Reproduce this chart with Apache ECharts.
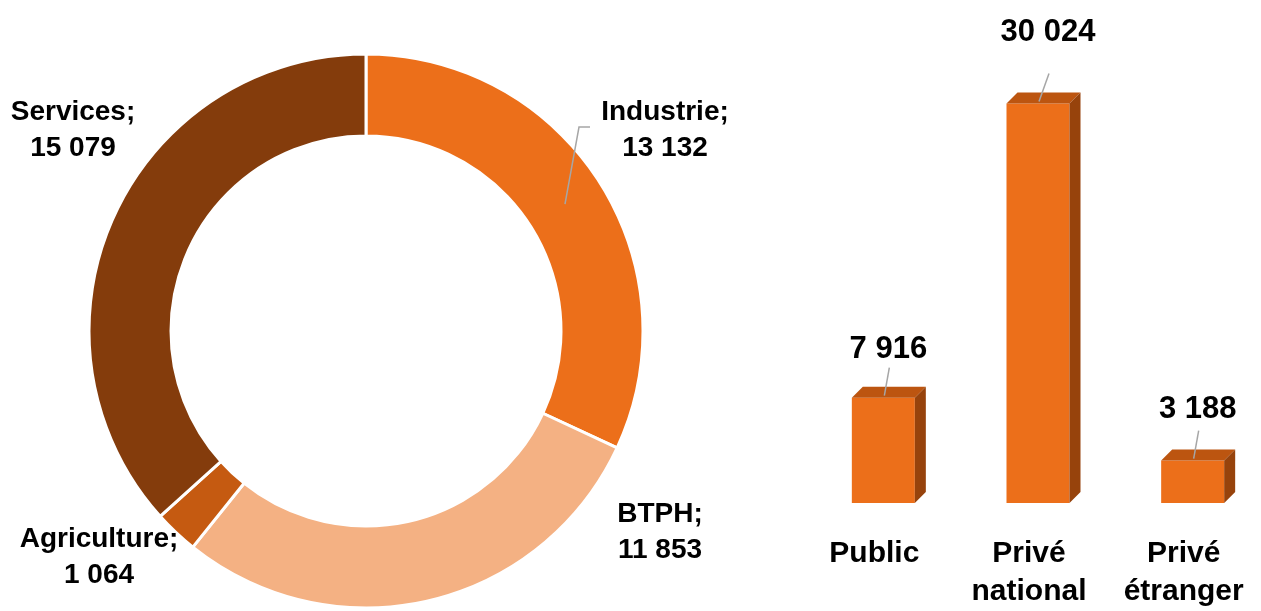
<!DOCTYPE html>
<html>
<head>
<meta charset="utf-8">
<script src="https://cdn.jsdelivr.net/npm/echarts@6/dist/echarts.min.js"></script>
<style>
    html, body { margin: 0; padding: 0; background: #fff; }
    #chart { width: 1261px; height: 611px; }
</style>
</head>
<body>
<div id="chart"></div>
<script>
/* données */
const sectors = ['Industrie', 'BTPH', 'Agriculture', 'Services'];
const sectorValues = [13132, 11853, 1064, 15079];
const owners = ['Public', 'Privé\nnational', 'Privé\nétranger'];
const ownerValues = [7916, 30024, 3188];

const sectorColors = ['#EC6F1A', '#F4B183', '#C55A11', '#843C0C'];
const font = '"Liberation Sans", Arial, sans-serif';

let fmt = function (v) {
    return String(v).replace(/\B(?=(\d{3})+(?!\d))/g, ' ');
};

/* géométrie du donut */
const pieCenter = [366, 331];
const pieRadius = [195, 277];

/* position des étiquettes du donut */
const pieLabelPos = [
    { x: 665, y: 130 },
    { x: 660, y: 532 },
    { x: 99, y: 557 },
    { x: 73, y: 130 }
];
/* hauteur des étiquettes au-dessus des barres */
const barLabelLift = [50, 73, 53];

/* trait de rappel Industrie : part du milieu du secteur */
let total = sectorValues.reduce(function (a, b) { return a + b; }, 0);
let midAngle = sectorValues[0] / total * Math.PI;
let midR = (pieRadius[0] + pieRadius[1]) / 2;
let guideStart = [pieCenter[0] + midR * Math.sin(midAngle), pieCenter[1] - midR * Math.cos(midAngle)];

let chart = echarts.init(document.getElementById('chart'));

let pieData = sectors.map(function (name, i) {
    return {
        name: name,
        value: sectorValues[i],
        itemStyle: { color: sectorColors[i] }
    };
});

let barData = owners.map(function (name, i) {
    return [i, ownerValues[i]];
});

let options = {
    animation: false,
    textStyle: { fontFamily: font },
    grid: {
        left: 797,
        width: 476,
        top: 4,
        height: 506
    },
    graphic: [
        {
            type: 'polyline',
            z: 100,
            shape: { points: [guideStart, [579, 127], [590, 127]] },
            style: { stroke: '#A6A6A6', lineWidth: 1.5, fill: null }
        }
    ],
    xAxis: {
        type: 'category',
        data: owners,
        axisLine: { show: false },
        axisTick: { show: false },
        axisLabel: {
            color: '#000',
            fontSize: 30,
            fontWeight: 'bold',
            fontFamily: font,
            lineHeight: 38,
            margin: 32,
            interval: 0
        }
    },
    yAxis: {
        type: 'value',
        min: 0,
        max: 37511,
        show: false
    },
    series: [
        {
            type: 'pie',
            center: pieCenter,
            radius: pieRadius,
            startAngle: 90,
            clockwise: true,
            data: pieData,
            itemStyle: { borderColor: '#fff', borderWidth: 3 },
            label: {
                show: true,
                color: '#000',
                fontSize: 28,
                fontWeight: 'bold',
                fontFamily: font,
                lineHeight: 36,
                align: 'center',
                overflow: 'none',
                formatter: function (p) {
                    return p.name + ';\n' + fmt(p.value);
                }
            },
            labelLine: { show: false },
            labelLayout: function (p) {
                let pos = pieLabelPos[p.dataIndex];
                return { x: pos.x, y: pos.y, align: 'center', verticalAlign: 'middle', hideOverlap: false };
            }
        },
        {
            type: 'custom',
            data: barData,
            renderItem: function (params, api) {
                let idx = api.value(0);
                let base = api.coord([idx, 0]);
                let top = api.coord([idx, api.value(1)]);
                let w = 63, d = 11;
                let x0 = base[0] + 9 - w / 2;
                let x1 = x0 + w;
                let y0 = top[1], y1 = base[1];
                let cx = (x0 + x1) / 2;
                let lift = barLabelLift[params.dataIndex];
                return {
                    type: 'group',
                    children: [
                        {
                            type: 'rect',
                            shape: { x: x0, y: y0, width: w, height: y1 - y0 },
                            style: { fill: '#EC6F1A' }
                        },
                        {
                            type: 'polygon',
                            shape: { points: [[x0, y0], [x0 + d, y0 - d], [x1 + d, y0 - d], [x1, y0]] },
                            style: { fill: '#BC5510' }
                        },
                        {
                            type: 'polygon',
                            shape: { points: [[x1, y0], [x1 + d, y0 - d], [x1 + d, y1 - d], [x1, y1]] },
                            style: { fill: '#97430C' }
                        },
                        {
                            type: 'line',
                            shape: { x1: cx + 1, y1: y0 - 2, x2: cx + 6 + (lift > 60 ? 5 : 0), y2: y0 - 30 },
                            style: { stroke: '#A6A6A6', lineWidth: 1.5 }
                        },
                        {
                            type: 'text',
                            style: {
                                x: cx + 5 + (lift > 60 ? 5 : 0),
                                y: y0 - lift + 2,
                                text: fmt(api.value(1)),
                                fill: '#000',
                                font: 'bold 31px ' + font,
                                textAlign: 'center',
                                textVerticalAlign: 'middle'
                            }
                        }
                    ]
                };
            }
        }
    ]
};
chart.setOption(options);
</script>
</body>
</html>
